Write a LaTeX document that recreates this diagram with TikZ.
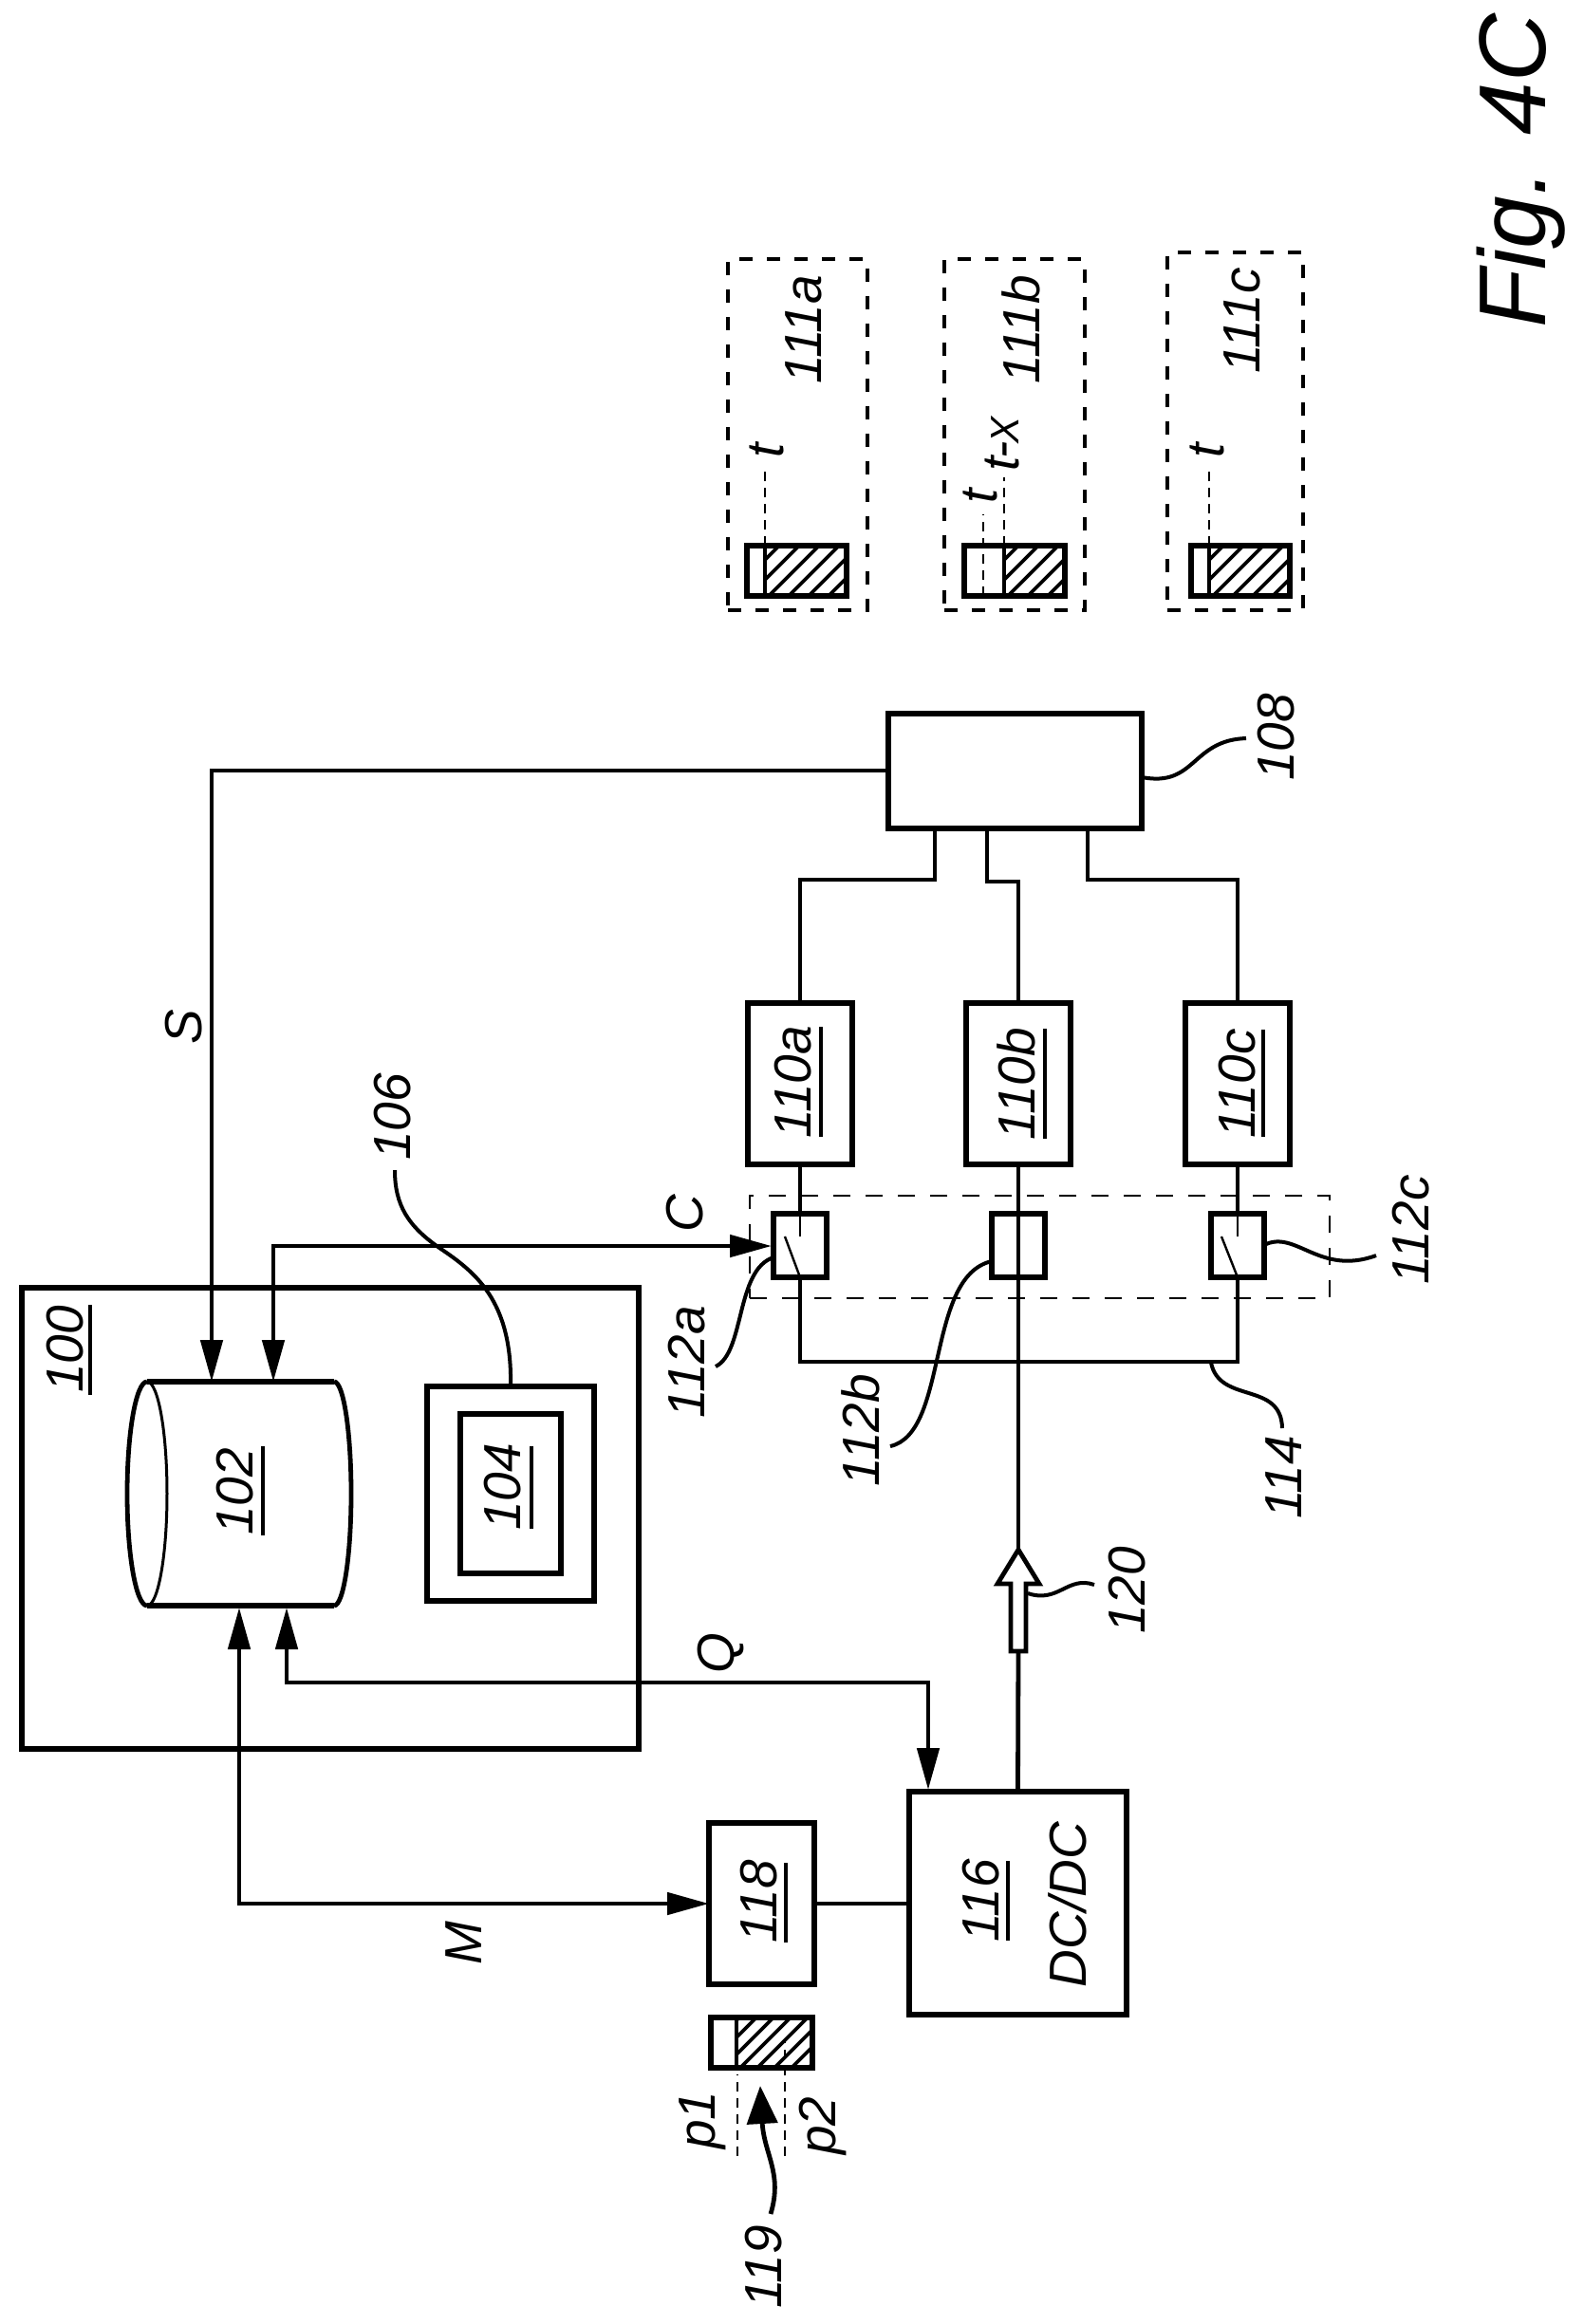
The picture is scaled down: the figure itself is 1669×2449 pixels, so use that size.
\documentclass[tikz,border=0pt]{standalone}
\usepackage{fontspec}
\setmainfont{Liberation Sans}
\usetikzlibrary{arrows.meta,calc}
\newcommand{\pxbox}[6]{\node[#6, minimum width={(#4-#2)*0.5pt}, minimum height={(#5-#3)*0.5pt}] (#1) at ({(#2+#4)/2},{(#3+#5)/2}) {};}
\newcommand{\hatchfill}[6]{\begin{scope}\clip (#1,#2) rectangle (#3,#4);
\foreach \k in {-6,...,14}{\draw[hatchline] ({#1+4+\k*#5},#4) -- ({#1+4+\k*#5+#6},#2);}\end{scope}}
\tikzset{
  heavy/.style={draw=black,line width=3.4pt,inner sep=0pt,outer sep=0pt,fill=none},
  medbox/.style={draw=black,line width=3pt,inner sep=0pt,outer sep=0pt,fill=none},
  conn/.style={draw=black,line width=2.4pt},
  leader/.style={draw=black,line width=2pt},
  thin line/.style={draw=black,line width=1.2pt},
  thindash/.style={draw=black,line width=1.3pt,dash pattern=on 5pt off 3.5pt},
  groupdash/.style={draw=black,line width=1.3pt,dash pattern=on 9pt off 8pt,inner sep=0pt,outer sep=0pt},
  statedash/.style={draw=black,line width=2pt,dash pattern=on 7pt off 7.5pt,inner sep=0pt,outer sep=0pt},
  hatchline/.style={draw=black,line width=1.8pt},
  underl/.style={draw=black,line width=2pt},
  lbl/.style={rotate=90,anchor=base,inner sep=0pt,outer sep=0pt,font=\fontsize{27.5}{30}\selectfont\itshape},
  tipa/.tip={Triangle[length=22pt,width=11.5pt]},
}
\begin{document}
\begin{tikzpicture}[x=0.5pt,y=-0.5pt]
\path[fill=white,use as bounding box] (0,0) rectangle (1669,2449);

% controller block
\pxbox{b100}{23}{1357}{673}{1843}{heavy}
\pxbox{b104o}{450}{1461}{626}{1687}{medbox}
\pxbox{b104i}{485}{1490}{591}{1658}{medbox}
\node[lbl] (n100) at (87,1422) {100};
\draw[underl] (95,1375) -- (95,1470);
\node[lbl] (n104) at (548,1567) {104};
\draw[underl] (560,1524) -- (560,1611);

% cylinder 102
\draw[medbox] (155,1456) -- (352,1456);
\draw[medbox] (155,1692) -- (352,1692);
\draw[conn] (155,1456) arc[start angle=90,end angle=270,x radius=10.5pt,y radius=59pt];
\draw[leader,line width=1.5pt] (155,1456) arc[start angle=90,end angle=-90,x radius=10.5pt,y radius=59pt];
\draw[conn] (352,1456) arc[start angle=90,end angle=-90,x radius=9pt,y radius=59pt];
\node[lbl] (n102) at (266,1572) {102};
\draw[underl] (277,1524) -- (277,1618);

% box 108 and box 110
\pxbox{b108}{936}{752}{1203}{873}{medbox}
\pxbox{b110a}{788}{1057}{898}{1227}{medbox}
\pxbox{b110b}{1018}{1057}{1128}{1227}{medbox}
\pxbox{b110c}{1249}{1057}{1359}{1227}{medbox}
\node[lbl] (n110a) at (854,1140) {110a};
\draw[underl] (865,1082) -- (865,1198);
\node[lbl] (n110b) at (1090,1142) {110b};
\draw[underl] (1101,1084) -- (1101,1200);
\node[lbl] (n110c) at (1322,1142) {110c};
\draw[underl] (1331,1085) -- (1331,1198);

% switches
\pxbox{gr112}{790}{1260}{1401}{1368}{groupdash}
\pxbox{swa}{815}{1279}{871}{1346}{medbox}
\pxbox{swb}{1045}{1279}{1101}{1346}{medbox}
\pxbox{swc}{1276}{1279}{1332}{1346}{medbox}
\draw[thin line] (swa.north) -- ++(0,24);
\draw[thin line] (827,1303) -- (swa.south);
\draw[thin line] (swc.north) -- ++(0,24);
\draw[thin line] (1287,1303) -- (swc.south);

% connectors around 108/110
\coordinate (p108a) at (985,873);
\coordinate (p108b) at (1040,873);
\coordinate (p108c) at (1146,873);
\draw[conn] (p108a) -- ++(0,54) -| (b110a.north);
\draw[conn] (p108b) -- ++(0,56) -| (b110b.north);
\draw[conn] (p108c) -- ++(0,54) -| (b110c.north);
\draw[conn] (b110a.south) -- (swa.north);
\draw[conn] (b110b.south) -- (swb.north);
\draw[conn] (b110c.south) -- (swc.north);
\coordinate (busm) at (1073,1435);
\draw[conn] (swa.south) |- (busm) -| (swc.south);

% DC/DC and hollow arrow
\pxbox{b116}{958}{1888}{1187}{2123}{medbox}
\pxbox{b118}{747}{1921}{858}{2091}{medbox}
\draw[conn] (b118.east) -- (b118.east -| b116.west);
\node[lbl] (n116) at (1052,2003) {116};
\draw[underl] (1062,1961) -- (1062,2045);
\node[lbl] (nDC) at (1144,2007) {DC/DC};
\node[lbl] (n118) at (818,2004) {118};
\draw[underl] (828,1963) -- (828,2047);
\coordinate (a120tip) at (1073,1633);
\coordinate (a120base) at (1073,1740);
\draw[conn] (swb.north) -- (swb.south) -- (a120tip);
\draw[conn] (b116.north) -- (a120base);
\draw[conn] (1065,1740) -- (1065,1669) -- (1051,1669) -- (a120tip) -- (1095,1669) -- (1081,1669) -- (1081,1740) -- cycle;

% signals
\coordinate (p102S) at (223,1456);
\coordinate (p102C) at (288,1456);
\coordinate (p102M) at (252,1694);
\coordinate (p102Q) at (302,1694);
\coordinate (p108S) at (936,812);
\coordinate (p112C) at (813,1313);
\coordinate (p116Q) at (978,1886);
\coordinate (qm) at (640,1773);
\draw[conn,-{tipa}] (p108S) -| (p102S);
\draw[conn,{tipa}-{tipa}] (p112C) -| (p102C);
\draw[conn,{tipa}-{tipa}] (p102M) |- (b118.west);
\draw[conn,{tipa}-{tipa}] (p102Q) |- (qm) -| (p116Q);

% signal letters
\node[lbl] (nS) at (212,1082) {S};
\node[lbl] (nC) at (740,1279) {C};
\node[lbl] (nQ) at (773,1742) {Q};
\node[lbl] (nM) at (507,2048) {M};

% leaders
\draw[leader] (538,1461) .. controls (540,1370) and (500,1340) .. (463,1315) .. controls (430,1292) and (416,1270) .. (416,1233);
\node[lbl] (n106) at (432,1177) {106};
\draw[leader] (b108.east |- 0,819) .. controls (1260,830) and (1255,780) .. (1313,778);
\node[lbl] (n108) at (1363,777) {108};
\draw[leader] (815,1325) .. controls (775,1338) and (785,1425) .. (754,1440);
\node[lbl] (n112a) at (742,1435) {112a};
\draw[leader] (1045,1329) .. controls (975,1345) and (1000,1510) .. (938,1524);
\node[lbl] (n112b) at (926,1507) {112b};
\draw[leader] (1332,1312) .. controls (1365,1295) and (1390,1345) .. (1450,1323);
\node[lbl] (n112c) at (1505,1296) {112c};
\draw[leader] (1276,1436) .. controls (1285,1480) and (1350,1455) .. (1351,1505);
\node[lbl] (n114) at (1371,1557) {114};
\draw[leader] (1083,1679) .. controls (1115,1690) and (1125,1660) .. (1153,1670);
\node[lbl] (n120) at (1206,1676) {120};

% pulse 119
\hatchfill{776}{2126}{856}{2179}{18}{53}
\pxbox{r119}{749}{2126}{856}{2179}{medbox}
\draw[hatchline,line width=2.4pt] (776,2126) -- (776,2179);
\draw[thindash] (777,2272) -- (777,2186);
\draw[thindash] (827,2272) -- (827,2152);
\node[lbl] (np1) at (753,2234) {p1};
\node[lbl] (np2) at (880,2240) {p2};
\draw[conn,-{Triangle[length=20pt,width=16pt]}] (812,2333) .. controls (825,2290) and (805,2270) .. (801,2198);
\node[lbl] (n119) at (823,2389) {119};

% states 111
\pxbox{g111a}{767}{273}{914}{643}{statedash}
\pxbox{g111b}{995}{273}{1143}{643}{statedash}
\pxbox{g111c}{1230}{266}{1373}{643}{statedash}
\hatchfill{806}{575}{892}{628}{21}{53}
\hatchfill{1058}{575}{1122}{628}{21}{53}
\hatchfill{1274}{575}{1359}{628}{21}{53}
\pxbox{ra}{787}{575}{892}{628}{medbox}
\pxbox{rb}{1016}{575}{1122}{628}{medbox}
\pxbox{rc}{1255}{575}{1359}{628}{medbox}
\draw[hatchline,line width=2.4pt] (806,575) -- (806,628);
\draw[hatchline,line width=2.4pt] (1058,575) -- (1058,628);
\draw[hatchline,line width=2.4pt] (1274,575) -- (1274,628);
\draw[thindash] (806,575) -- (806,492);
\draw[thindash] (1036,628) -- (1036,542);
\draw[thindash] (1058,575) -- (1058,503);
\draw[thindash] (1274,575) -- (1274,492);
\node[lbl] (nta) at (825,475) {t};
\node[lbl] (ntb) at (1050,523) {t};
\node[lbl] (ntx) at (1073,468) {t\kern-1pt-\kern-1pt{\fontsize{21}{24}\selectfont X}};
\node[lbl] (ntc) at (1289,475) {t};
\node[lbl] (n111a) at (865,347) {111a};
\node[lbl] (n111b) at (1095,347) {111b};
\node[lbl] (n111c) at (1327,338) {111c};

% figure label
\node[lbl,font=\fontsize{50}{54}\selectfont\itshape] (nfig) at (1628,180) {Fig. 4C};
\end{tikzpicture}
\end{document}
